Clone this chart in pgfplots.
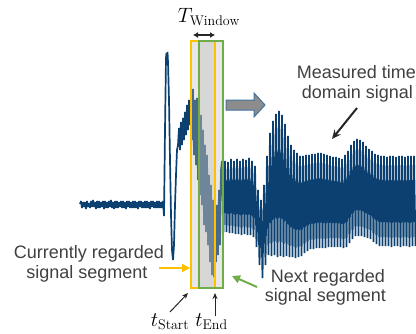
\documentclass[border=0pt]{standalone}
\usepackage{pgfplots}
\pgfplotsset{compat=1.18}
\usepackage{fontspec}
\newfontfamily\lsans{Liberation Sans}
\usetikzlibrary{arrows.meta}
\definecolor{sig}{RGB}{12,64,112}
\definecolor{winy}{RGB}{255,192,0}
\definecolor{wing}{RGB}{112,173,71}
\definecolor{txt}{RGB}{64,64,64}
\definecolor{arrg}{RGB}{140,140,140}
\definecolor{arrb}{RGB}{65,113,156}
\begin{document}
\begin{tikzpicture}
\begin{axis}[hide axis, scale only axis, width=416pt, height=333pt,
  xmin=0, xmax=416, ymin=0, ymax=333, y dir=reverse, clip=false]
% noise before the event
\addplot[sig, line width=1.7pt, line join=bevel] coordinates {
(80,204)(81,201)(82,208)(83,202)(84,207)(85,202)(86,209)(87,201)(88,207)(89,203)
(90,208)(91,201)(92,207)(93,200)(94,207)(95,202)(96,209)(97,201)(98,208)(99,201)
(100,208)(101,202)(102,207)(103,201)(104,209)(105,201)(106,208)(107,202)(108,208)(109,201)
(110,207)(111,200)(112,208)(113,202)(114,209)(115,201)(116,208)(117,201)(118,208)(119,202)
(120,207)(121,201)(122,208)(123,201)(124,208)(125,202)(126,209)(127,201)(128,207)(129,201)
(130,208)(131,202)(132,208)(133,201)(134,208)(135,201)(136,208)(137,202)(138,209)(139,201)
(140,207)(141,201)(142,208)(143,202)(144,208)(145,201)(146,208)(147,201)(148,208)(149,202)
(150,209)(151,201)(152,207)(153,201)(154,208)(155,202)(156,208)(157,201)(158,208)(159,201)
(160,208)(161,202)(162,208)(163,201)(164,216)
(165,130)(166,58)(166.5,53)(167,56)(167.5,52)(168,62)(169,100)(170,160)(171,215)(172,250)
(173,260)(174,245)(175,205)(176,175)(177,150)(178,145)(179,128)(180,150)(181,122)(182,145)
(183,118)(184,140)(185,112)(186,135)(187,105)(188,130)(189,100)(190,125)(191,95)(192,140)
(193,89)(194,155)(195,100)(196,165)(197,98)(198,180)(199,110)(200,195)(201,115)(202,205)
(203,130)(204,225)(205,145)(206,232)(207,155)(208,245)(209,175)(210,262)(211,185)(212,275)
(213,200)(214,277)(215,195)(216,262)(217,205)(218,255)(219,190)(220,245)(221,170)
(222,161)(223.5,232)(225,161)(226.5,232)(228,162)(229.5,233)(231,159)(232.5,233)(234,161)(235.5,234)
(237,159)(238.5,234)(240,161)(241.5,235)(243,159)(244.5,234)(246,160)(247.5,235)(249,158)(250.5,235)
(252,161)(253.5,237)(255,166)(256.5,247)(258,190)(259.5,265)(261,200)(262.5,278)(264,185)(265.5,265)
(267,156)(268.5,255)(270,133)(271.5,256)(273,121)(274.5,255)(276,114)(277.5,257)(279,111)(280.5,256)
(282,115)(283.5,257)(285,124)(286.5,256)(288,136)(289.5,257)(291,145)(292.5,257)(294,150)(295.5,258)
(297,153)(298.5,257)(300,156)(301.5,256)(303,156)(304.5,253)(306,155)(307.5,251)(309,155)(310.5,249)
(312,154)(313.5,249)(315,154)(316.5,248)(318,153)(319.5,248)(321,153)(322.5,248)(324,154)(325.5,248)
(327,155)(328.5,247)(330,156)(331.5,247)(333,157)(334.5,247)(336,157)(337.5,247)(339,158)(340.5,247)
(342,159)(343.5,248)(345,155)(346.5,247)(348,151)(349.5,243)(351,145)(352.5,239)(354,141)(355.5,236)
(357,139)(358.5,236)(360,140)(361.5,236)(363,142)(364.5,237)(366,146)(367.5,238)(369,149)(370.5,239)
(372,151)(373.5,242)(375,154)(376.5,244)(378,155)(379.5,246)(381,156)(382.5,246)(384,156)(385.5,246)
(387,157)(388.5,246)(390,156)(391.5,247)(393,156)(394.5,246)(396,157)(397.5,246)(399,156)(400.5,247)
(402,156)(403.5,246)(405,157)(406.5,246)(408,156)(409.5,247)(411,156)(412.5,246)(414,156)(415.5,246)
};
% windows
\fill[gray!55, opacity=0.35] (axis cs:191,41) rectangle (axis cs:215,288);
\fill[gray!55, opacity=0.35] (axis cs:199,41) rectangle (axis cs:223,288);
\draw[winy, line width=1.6pt] (axis cs:191,41) rectangle (axis cs:215,288);
\draw[wing, line width=1.6pt] (axis cs:199,41) rectangle (axis cs:223,288);
% T window
\draw[black!85, line width=1.6pt, {Latex[length=5pt,width=6pt]}-{Latex[length=5pt,width=6pt]}] (axis cs:193,35) -- (axis cs:215,35);
\node[anchor=base, font=\fontsize{20}{24}\selectfont] at (axis cs:209,22) {$T_{\mathrm{Window}}$};
% block arrow
\draw[fill=arrg, draw=arrb, line width=1pt] (axis cs:226,100) -- (axis cs:254,100) -- (axis cs:254,93) -- (axis cs:265,105) -- (axis cs:254,117) -- (axis cs:254,110) -- (axis cs:226,110) -- cycle;
% texts
\node[anchor=base, text=txt, font=\lsans\fontsize{18}{21}\selectfont] at (axis cs:356.5,78) {Measured time};
\node[anchor=base, text=txt, font=\lsans\fontsize{18}{21}\selectfont] at (axis cs:357.5,98) {domain signal};
\draw[black!85, line width=2pt, -{Stealth[length=9pt,width=8pt]}] (axis cs:357,108) -- (axis cs:332,139);
\node[anchor=base, text=txt, font=\lsans\fontsize{18}{21}\selectfont] at (axis cs:89,258) {Currently regarded};
\node[anchor=base, text=txt, font=\lsans\fontsize{18}{21}\selectfont] at (axis cs:87,278) {signal segment};
\draw[winy, line width=2pt, -{Triangle[length=8pt,width=8pt]}] (axis cs:159,268) -- (axis cs:190,268);
\node[anchor=base, text=txt, font=\lsans\fontsize{18}{21}\selectfont] at (axis cs:328,282) {Next regarded};
\node[anchor=base, text=txt, font=\lsans\fontsize{18}{21}\selectfont] at (axis cs:325.5,301) {signal segment};
\draw[wing, line width=2pt, -{Triangle[length=8pt,width=8pt]}] (axis cs:257,287) -- (axis cs:232,276);
% t labels
\draw[black!85, line width=1pt, -{Stealth[length=6pt,width=5pt]}] (axis cs:170,312) -- (axis cs:188,293);
\draw[black!85, line width=1pt, -{Stealth[length=6pt,width=5pt]}] (axis cs:215,316) -- (axis cs:215,293);
\node[anchor=base, font=\fontsize{20}{24}\selectfont] at (axis cs:170,326) {$t_{\mathrm{Start}}$};
\node[anchor=base, font=\fontsize{20}{24}\selectfont] at (axis cs:211.5,326) {$t_{\mathrm{End}}$};
\end{axis}
\pgfresetboundingbox
\useasboundingbox (0,0) rectangle (416pt,333pt);
\end{tikzpicture}
\end{document}
